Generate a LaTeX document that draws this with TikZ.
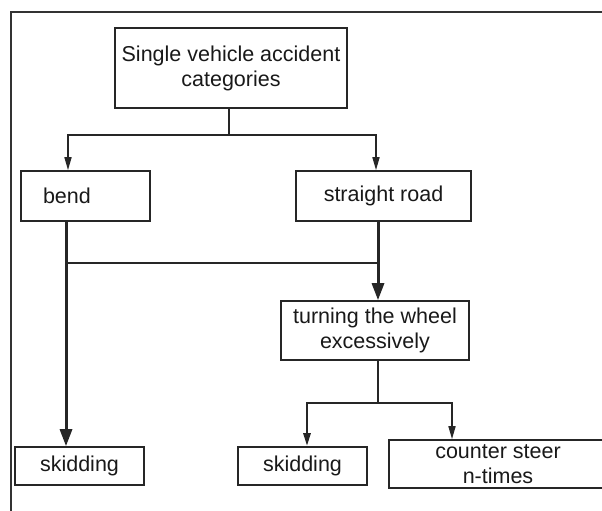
\documentclass[tikz,border=0pt]{standalone}
\usepackage{fontspec}
\setmainfont{Liberation Sans}
\usetikzlibrary{arrows.meta, positioning}
\tikzstyle{box} = [rectangle, draw=black!85, line width=1.6pt, text centered, align=center, text=black!90, font=\fontsize{21.5}{25}\selectfont, inner sep=0pt]
\tikzstyle{thin} = [draw=black!85, line width=1.6pt, -{Triangle[length=13pt,width=7pt]}]
\tikzstyle{thick} = [draw=black!85, line width=3pt, -{Triangle[length=17pt,width=12pt]}]
\tikzstyle{link} = [draw=black!85, line width=2.8pt]

\begin{document}
\begin{tikzpicture}[x=1pt, y=-1pt]
  \useasboundingbox (0,0) rectangle (602,511);
  \clip (0,0) rectangle (602,511);
  % outer frame
  \draw[black!80, line width=1.6pt] (11,515) -- (11,12) -- (606,12);

  \node (cat) [box, minimum width=232pt, minimum height=80pt] at (231,68) {Single vehicle accident\\categories};
  \node (bend) [box, minimum width=129pt, minimum height=50pt, text width=85pt, inner xsep=22pt, align=left] at (85.5,196) {bend};
  \node (straight) [box, minimum width=175pt, minimum height=50pt] at (383.5,196) {straight road};
  \node (turn) [box, minimum width=188pt, minimum height=59pt] at (375,330.5) {turning the wheel\\excessively};
  \node (skid1) [box, minimum width=129pt, minimum height=38pt] at (79.5,466) {skidding};
  \node (skid2) [box, minimum width=129pt, minimum height=38pt] at (302.5,466) {skidding};
  \node (counter) [box, minimum width=218pt, minimum height=48pt] at (498,464) {counter steer\\n-times};

  \coordinate (j1) at (229,135);
  \coordinate (j2) at (66,263);
  \coordinate (j3) at (378,403);

  \draw [link] (j1 |- cat.south) -- (j1);
  \draw [thin] (j1) -| ([xshift=-17.5pt]bend.north);
  \draw [thin] (j1) -| ([xshift=-7.5pt]straight.north);

  \draw [thick] ([xshift=-19.5pt]bend.south) -- ([xshift=-13.5pt]skid1.north);
  \draw [thick] ([xshift=-5.5pt]straight.south) -- ([xshift=3pt]turn.north);
  \draw [link, line width=2.4pt] (j2) -- (j2 -| j3);

  \draw [link, line width=1.6pt] ([xshift=3pt]turn.south) -- (j3);
  \draw [thin, line width=2.6pt] (j3) -| ([xshift=4.5pt]skid2.north);
  \draw [thin] (j3) -| ([xshift=-46pt]counter.north);
\end{tikzpicture}
\end{document}
